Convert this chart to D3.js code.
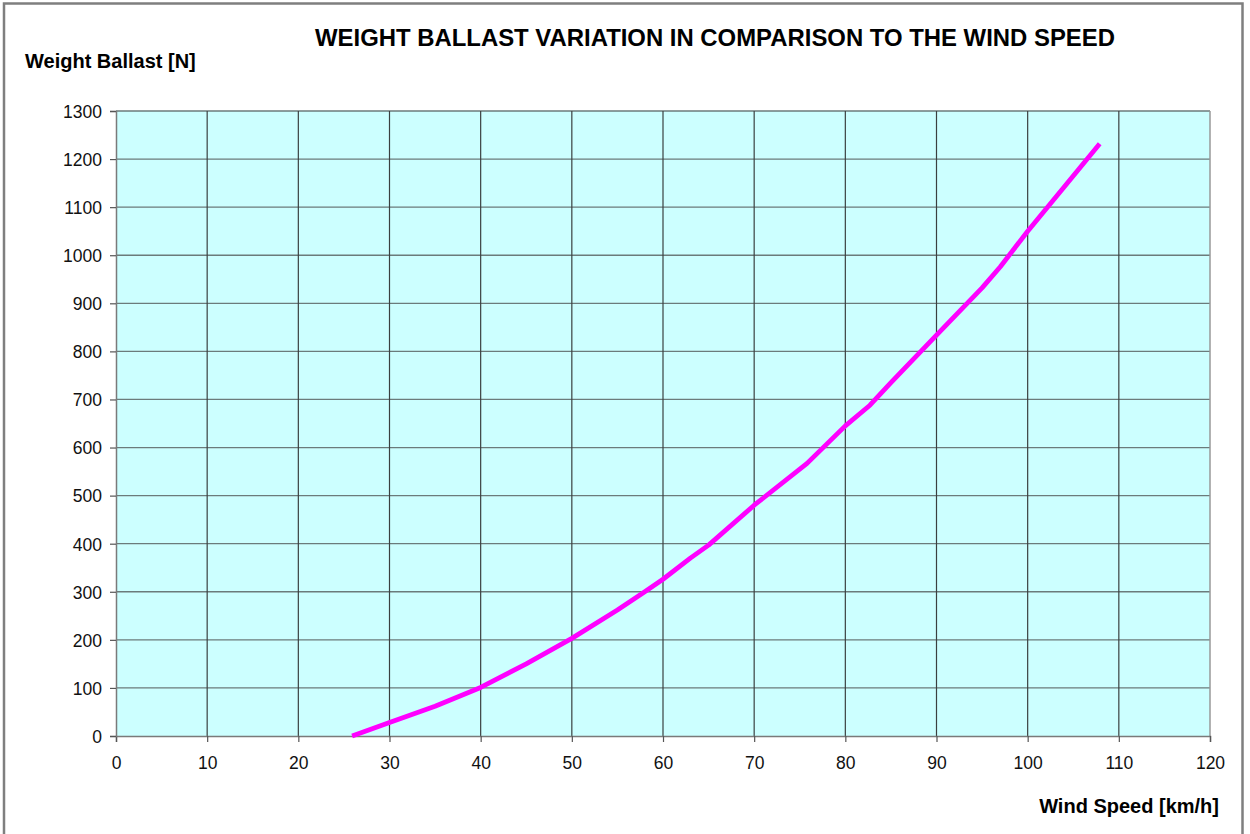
<!DOCTYPE html>
<html>
<head>
<meta charset="utf-8">
<script src="https://cdn.jsdelivr.net/npm/d3@7"></script>
<style>
  html, body { margin: 0; padding: 0; background: #fff; }
  svg { display: block; font-family: "Liberation Sans", Arial, sans-serif; }
</style>
</head>
<body>
<svg id="chart" width="1250" height="834"></svg>
<script>
// Wind speed [km/h] and the matching weight ballast [N]
const windSpeed = [25.9, 30, 35, 40, 45, 50, 55, 58, 60, 63, 65, 70, 75.8, 80, 82.7, 85, 90, 95, 97, 100, 104, 107.9];
const ballast   = [0, 28, 62, 101, 150, 203, 262, 300, 326, 370, 397, 480, 567, 645, 688, 735, 834, 932, 976, 1050, 1142, 1232];

const xTicks = d3.range(0, 121, 10);
const yTicks = d3.range(0, 1301, 100);

const chartTitle = "WEIGHT BALLAST VARIATION IN COMPARISON TO THE WIND SPEED";
const yTitle = "Weight Ballast [N]";
const xTitle = "Wind Speed [km/h]";

const svg = d3.select("#chart");
const plot = { left: 116, right: 1210, top: 111, bottom: 736 };

// Outer frame of the chart area
svg.append("rect")
  .attr("x", 4).attr("y", 3.5)
  .attr("width", 1238.5).attr("height", 840)
  .attr("fill", "#fff")
  .attr("stroke", "#7f7f7f").attr("stroke-width", 2.5);

const x = d3.scaleLinear().domain([0, 120]).range([plot.left, plot.right]);
const y = d3.scaleLinear().domain([0, 1300]).range([plot.bottom, plot.top]);

// Plot background
svg.append("rect")
  .attr("x", plot.left).attr("y", plot.top)
  .attr("width", plot.right - plot.left).attr("height", plot.bottom - plot.top)
  .attr("fill", "#ccffff");

// Horizontal gridlines
svg.append("g")
  .selectAll("line").data(yTicks.filter(d => d > 0)).join("line")
  .attr("x1", plot.left).attr("x2", plot.right)
  .attr("y1", d => y(d)).attr("y2", d => y(d))
  .attr("stroke", "#6b7b7b").attr("stroke-width", 1.3);

// Vertical gridlines
svg.append("g")
  .selectAll("line").data(xTicks.filter(d => d > 0 && d < 120)).join("line")
  .attr("x1", d => x(d)).attr("x2", d => x(d))
  .attr("y1", plot.top).attr("y2", plot.bottom)
  .attr("stroke", "#3a4040").attr("stroke-width", 1.2);

// Right edge of plot area
svg.append("line")
  .attr("x1", plot.right).attr("x2", plot.right)
  .attr("y1", plot.top).attr("y2", plot.bottom)
  .attr("stroke", "#999").attr("stroke-width", 1.5);

// Axes
const xAxis = d3.axisBottom(x).tickValues(xTicks).tickSize(6).tickPadding(15).tickFormat(d3.format("d"));
const yAxis = d3.axisLeft(y).tickValues(yTicks).tickSize(6).tickPadding(8).tickFormat(d3.format("d"));

const gx = svg.append("g").attr("transform", `translate(0,${plot.bottom})`).call(xAxis);
const gy = svg.append("g").attr("transform", `translate(${plot.left},0)`).call(yAxis);

[gx, gy].forEach(g => {
  g.select(".domain").attr("stroke", "#7a7a7a").attr("stroke-width", 1.5);
  g.selectAll(".tick line").attr("stroke", "#555").attr("stroke-width", 1.2);
  g.selectAll(".tick text")
    .attr("fill", "#111")
    .style("font-family", "'Liberation Sans', Arial, sans-serif")
    .style("font-size", "17.5px");
});
gy.selectAll(".tick text").attr("dy", "0.36em");

// Data line
const line = d3.line().x((d, i) => x(windSpeed[i])).y(d => y(d));
svg.append("path")
  .datum(ballast)
  .attr("d", line)
  .attr("fill", "none")
  .attr("stroke", "#ff00ff")
  .attr("stroke-width", 4.8)
  .attr("stroke-linejoin", "round");

// Titles
svg.append("text")
  .attr("x", 715).attr("y", 46)
  .attr("text-anchor", "middle")
  .style("font-size", "23.9px").style("font-weight", "bold")
  .attr("fill", "#000")
  .text(chartTitle);

svg.append("text")
  .attr("x", 25).attr("y", 68)
  .style("font-size", "20px").style("font-weight", "bold")
  .attr("fill", "#000")
  .text(yTitle);

svg.append("text")
  .attr("x", 1219).attr("y", 813)
  .attr("text-anchor", "end")
  .style("font-size", "20px").style("font-weight", "bold")
  .attr("fill", "#000")
  .text(xTitle);
</script>
</body>
</html>
